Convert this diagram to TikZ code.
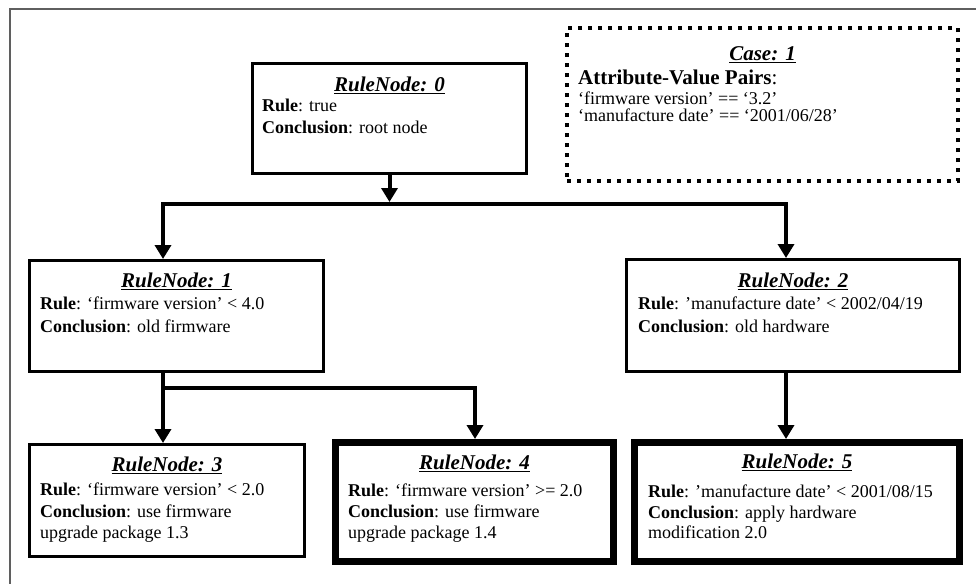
\documentclass[tikz,border=0pt]{standalone}
\usepackage{fontspec}
\setmainfont{Liberation Serif}
\usetikzlibrary{arrows.meta}

\newcommand\ttlfont{\fontsize{21}{21}\selectfont\bfseries\itshape}
\newcommand\bodyfont{\fontsize{18}{20}\selectfont}
\newcommand\ttl[1]{\underline{#1}}

\begin{document}
\begin{tikzpicture}[x=1pt,y=-1pt,
  box/.style={draw=black,line width=3pt,rectangle,inner sep=0pt},
  bold box/.style={box,line width=7pt},
  case box/.style={draw=black,line width=4pt,rectangle,inner sep=0pt,
    dash pattern=on 4pt off 6pt},
  ttlnode/.style={anchor=base,inner sep=0pt,font=\ttlfont},
  txt/.style={anchor=base west,inner sep=0pt,font=\bodyfont},
  conn/.style={draw=black,line width=4pt},
  tip/.style={-{Triangle[width=16pt,length=14pt]}},
  twotips/.style={{Triangle[width=16pt,length=14pt]}-{Triangle[width=16pt,length=14pt]}},
  frame/.style={draw={rgb,255:red,95;green,95;blue,95},line width=2pt}]

\useasboundingbox (0,0) rectangle (976,584);

% page frame (top and left edges)
\draw[frame] (976,8.5) -- (9.5,8.5) -- (9.5,584);

% rule nodes
\node[box,minimum width=274pt,minimum height=110pt] (n0) at (389.5,118.5) {};
\node[box,minimum width=294pt,minimum height=111pt] (n1) at (176.5,316) {};
\node[box,minimum width=333pt,minimum height=112pt] (n2) at (793,315.5) {};
\node[box,minimum width=275pt,minimum height=112pt] (n3) at (167,500.5) {};
\node[bold box,minimum width=278pt,minimum height=119pt] (n4) at (474.5,502) {};
\node[bold box,minimum width=325pt,minimum height=119pt] (n5) at (797,502) {};

% case box
\node[case box,minimum width=391pt,minimum height=153pt] (cs) at (762.5,104.5) {};

% texts of RuleNode 0
\node[ttlnode] (n0t) at (n0.center |- 0,91) {\ttl{RuleNode: 0}};
\node[txt] (n0a) at (262,111) {\textbf{Rule}: true};
\node[txt] (n0b) at (262,133) {\textbf{Conclusion}: root node};

% texts of RuleNode 1
\node[ttlnode] (n1t) at (n1.center |- 0,287) {\ttl{RuleNode: 1}};
\node[txt] (n1a) at (40,309) {\textbf{Rule}: ‘firmware version’ < 4.0};
\node[txt] (n1b) at (40,332) {\textbf{Conclusion}: old firmware};

% texts of RuleNode 2
\node[ttlnode] (n2t) at (n2.center |- 0,287) {\ttl{RuleNode: 2}};
\node[txt] (n2a) at (638,309) {\textbf{Rule}: ’manufacture date’ < 2002/04/19};
\node[txt] (n2b) at (638,332) {\textbf{Conclusion}: old hardware};

% texts of RuleNode 3
\node[ttlnode] (n3t) at (n3.center |- 0,471) {\ttl{RuleNode: 3}};
\node[txt] (n3a) at (40,495) {\textbf{Rule}: ‘firmware version’ < 2.0};
\node[txt] (n3b) at (40,517) {\textbf{Conclusion}: use firmware};
\node[txt] (n3c) at (40,538) {upgrade package 1.3};

% texts of RuleNode 4
\node[ttlnode] (n4t) at (n4.center |- 0,469) {\ttl{RuleNode: 4}};
\node[txt] (n4a) at (348,496) {\textbf{Rule}: ‘firmware version’ >= 2.0};
\node[txt] (n4b) at (348,517) {\textbf{Conclusion}: use firmware};
\node[txt] (n4c) at (348,538) {upgrade package 1.4};

% texts of RuleNode 5
\node[ttlnode] (n5t) at (n5.center |- 0,468) {\ttl{RuleNode: 5}};
\node[txt] (n5a) at (648,497) {\textbf{Rule}: ’manufacture date’ < 2001/08/15};
\node[txt] (n5b) at (648,518) {\textbf{Conclusion}: apply hardware};
\node[txt] (n5c) at (648,538) {modification 2.0};

% texts of the case
\node[ttlnode] (cst) at (cs.center |- 0,60) {\ttl{Case: 1}};
\node[txt,font=\fontsize{21}{21}\selectfont] (csa) at (578,84) {\textbf{Attribute-Value Pairs}:};
\node[txt] (csb) at (578,104) {‘firmware version’ == ‘3.2’};
\node[txt] (csc) at (578,121) {‘manufacture date’ == ‘2001/06/28’};

% bus coordinates
\coordinate (bL) at (163,204);
\coordinate (bR) at (786,204);
\coordinate (cL) at (163,388);
\coordinate (cR) at (475,388);

% connectors
\draw[conn,tip,shorten >=2pt] (n0.south) -- (n0.south |- bL);
\draw[conn,twotips] (bL |- n1.north) -- (bL) -- (bR) -- (bR |- n2.north);
\draw[conn,tip] (n1.south -| cL) -- (n3.north -| cL);
\draw[conn,tip] (cL) -- (cR) -- (cR |- n4.north);
\draw[conn,tip] (n2.south -| bR) -- (n5.north -| bR);

\end{tikzpicture}
\end{document}
